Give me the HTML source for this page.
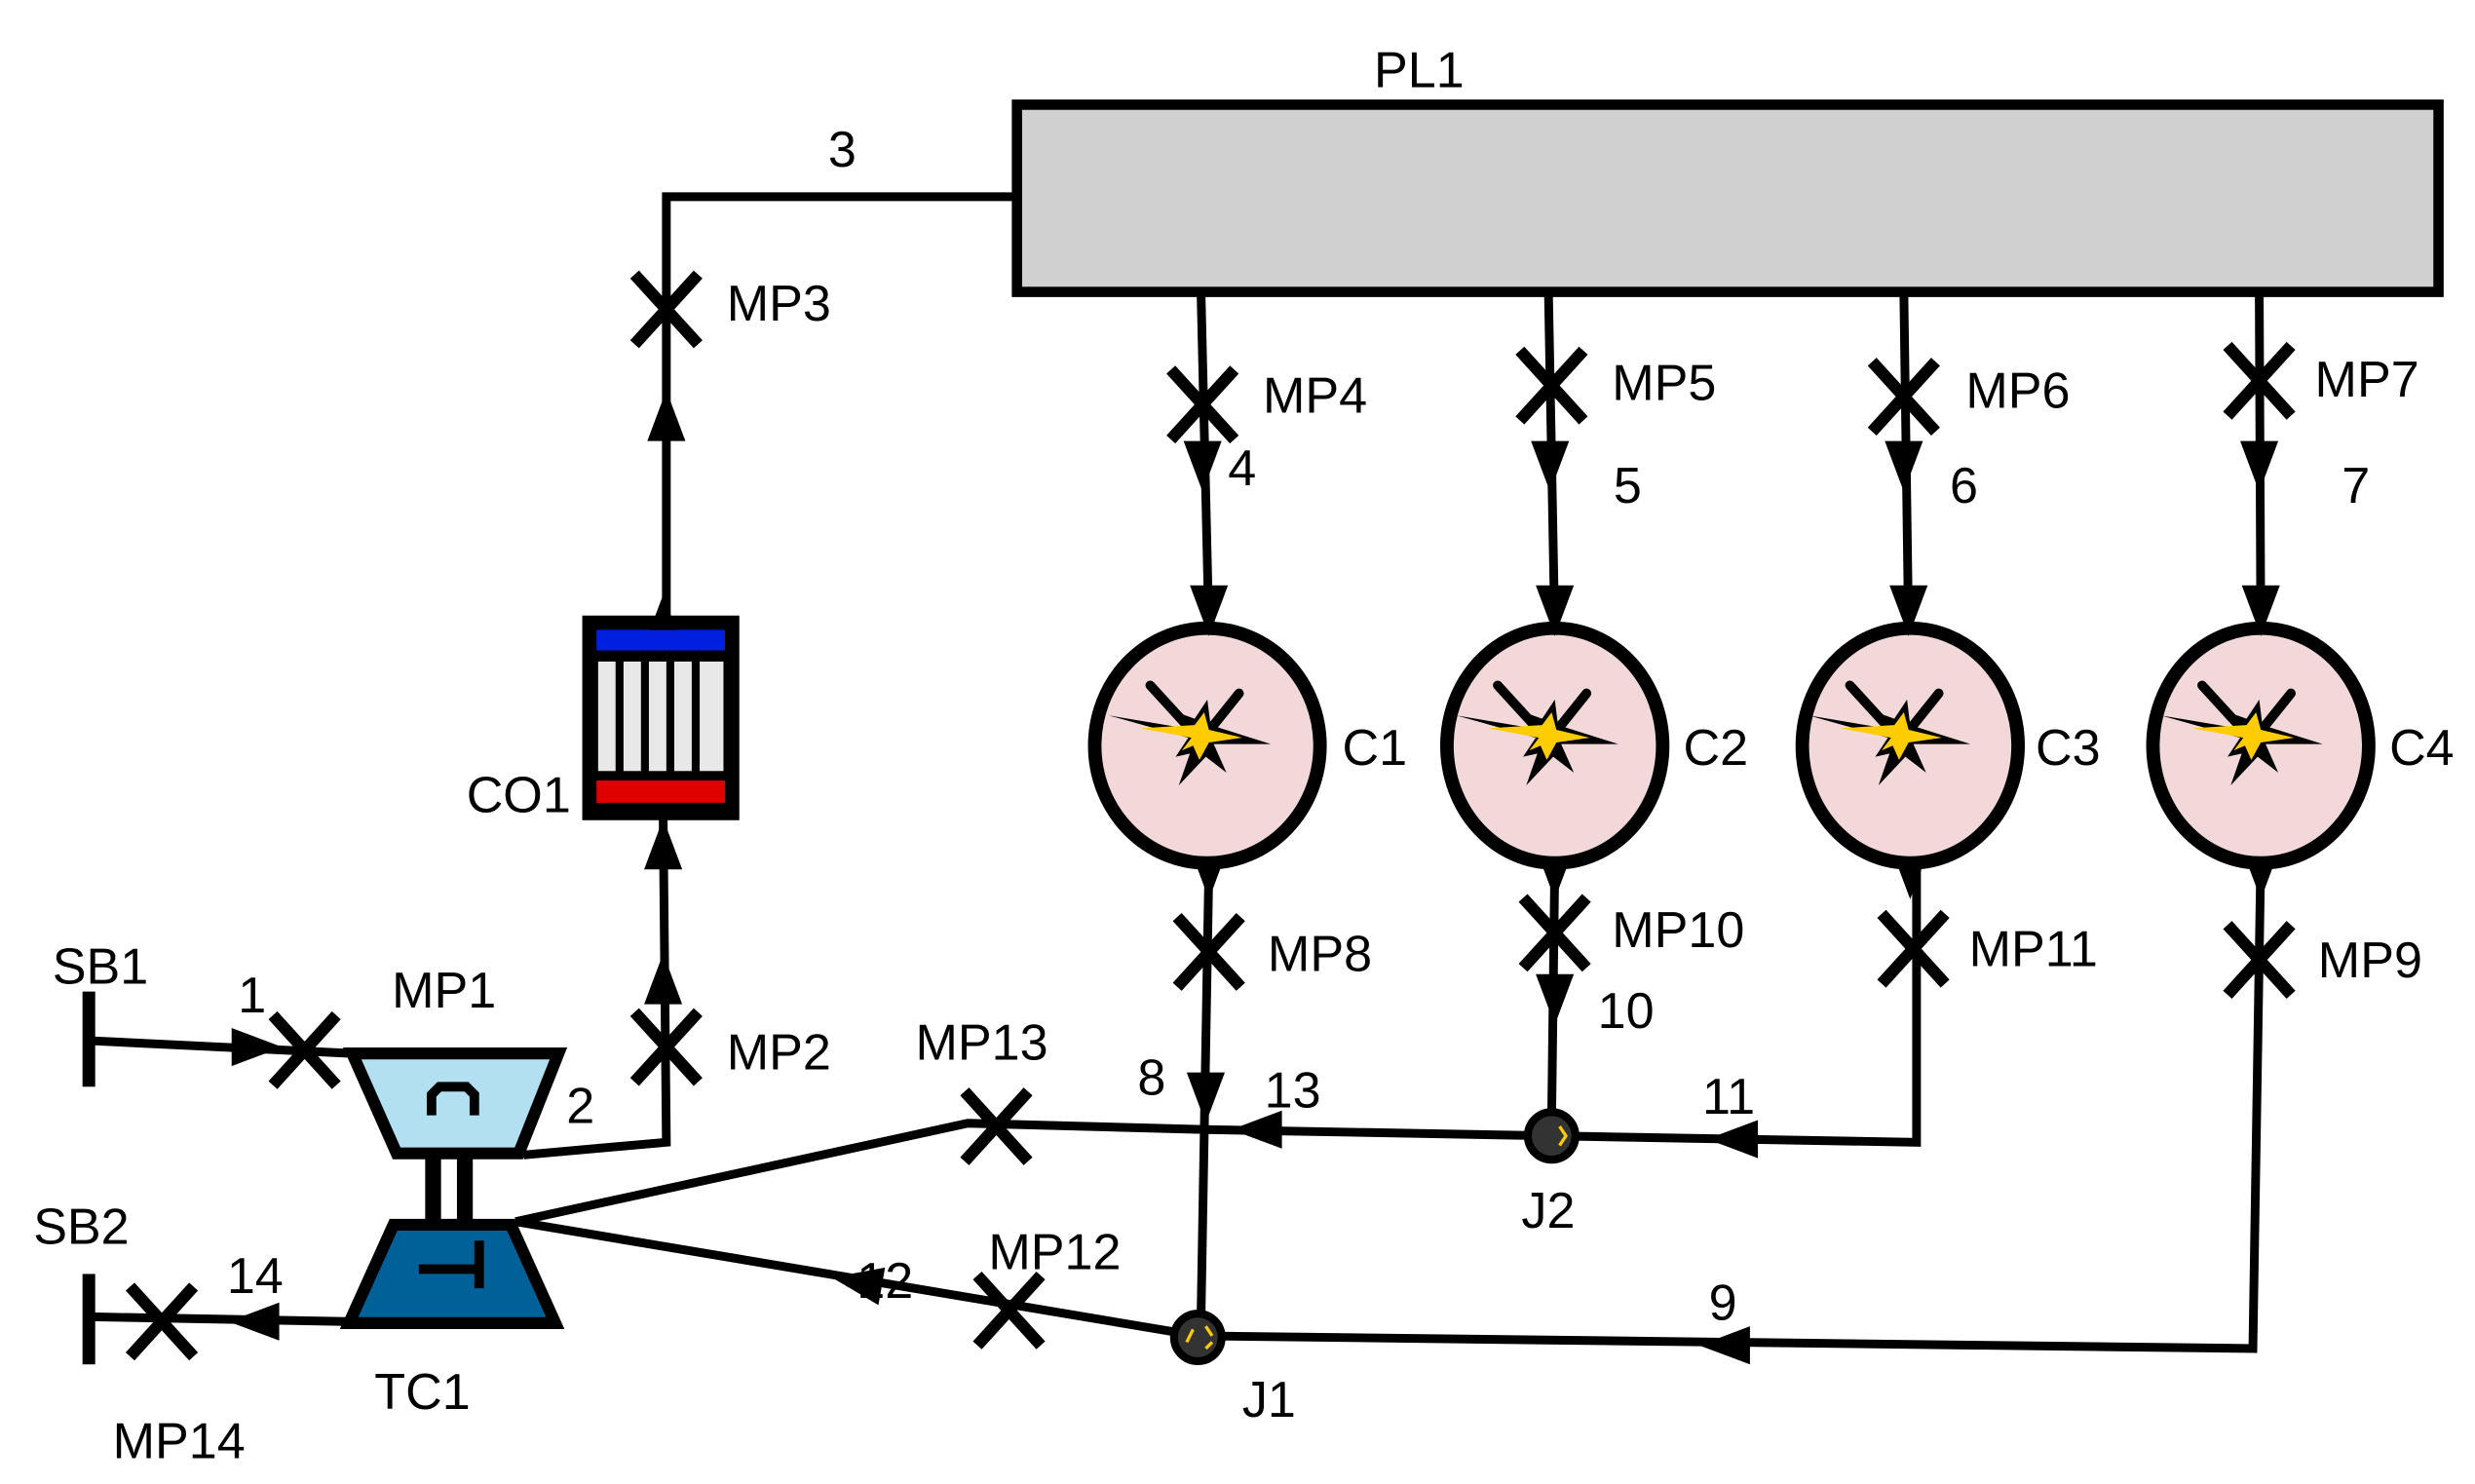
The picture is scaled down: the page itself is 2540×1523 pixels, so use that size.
<!DOCTYPE html>
<html><head><meta charset="utf-8"><style>
html,body{margin:0;padding:0;background:#fff;}
svg{display:block;}
text{font-family:"Liberation Sans",Arial,sans-serif;font-size:32px;fill:#000;}
</style></head><body>
<svg width="2540" height="1523" viewBox="0 0 1560 935.4" preserveAspectRatio="none" xmlns="http://www.w3.org/2000/svg">
<defs>
<g id="x"><path d="M-20,-22 L20,22 M20,-22 L-20,22" stroke="#000" stroke-width="7.5" fill="none"/></g>
<polygon id="a" points="-12,-16 12,-16 0,16" fill="#000"/>
<g id="star">
<path d="M-32,-33 L0,2 M24,-28 L0,2" stroke="#000" stroke-width="6" stroke-linecap="round"/>
<polygon points="-58,-14 -10,-6 -18,-17 -4,-12 4,-24 6,-8 44,4 8,4 16,22 3,12 -14,30 -7,10 -16,12 -8,0" fill="#000"/>
<polygon points="-38,-6 -4,-8 2,-16 5,-5 26,0 5,3 -1,14 -5,5 -12,8 -6,0" fill="#ffcc00"/>
</g>
</defs>
<g stroke="#000" stroke-width="5.5" fill="none">
<polyline points="641,124 420,124 420,388"/>
<polyline points="418,516 420,720 330,728"/>
<polyline points="57,656 222,664"/>
<polyline points="57,830 218,833"/>
<polyline points="325,770 610,708 760,712 980,716 1208,720 1208,545"/>
<polyline points="325,770 755,842 1420,850 1425,540"/>
<line x1="757" y1="184" x2="762" y2="398"/>
<line x1="976" y1="184" x2="980" y2="398"/>
<line x1="1200" y1="184" x2="1203" y2="398"/>
<line x1="1424" y1="184" x2="1425" y2="398"/>
<line x1="762" y1="545" x2="757" y2="830"/>
<line x1="980" y1="545" x2="978" y2="705"/>
</g>
<rect x="641" y="66" width="896" height="118" fill="#d0d0d0" stroke="#000" stroke-width="6.5"/>
<rect x="367" y="388" width="99" height="129" fill="#000"/>
<rect x="376" y="397" width="81" height="13" fill="#0020e0"/>
<rect x="376" y="492" width="81" height="14" fill="#e00000"/>
<g fill="#e8e8e8"><rect x="377" y="417" width="11" height="69"/><rect x="393" y="417" width="11" height="69"/><rect x="409" y="417" width="11" height="69"/><rect x="425" y="417" width="11" height="69"/><rect x="441" y="417" width="15" height="69"/></g>
<polygon points="222,664 352,664 327,727 250,727" fill="#b3e0f0" stroke="#000" stroke-width="7.5"/>
<path d="M272,703 V690 L277,685 H294 L299,690 V703" stroke="#000" stroke-width="6" fill="none"/>
<rect x="268" y="727" width="10" height="45" fill="#000"/><rect x="288" y="727" width="10" height="45" fill="#000"/>
<polygon points="248,772 322,772 350,834 220,834" fill="#006098" stroke="#000" stroke-width="7.5"/>
<path d="M264,800 H302 M302,782 V812" stroke="#000" stroke-width="6"/>
<rect x="52" y="625" width="8" height="60" fill="#000"/>
<rect x="52" y="803" width="8" height="57" fill="#000"/>
<g fill="#f2d8d8" stroke="#000" stroke-width="8.5">
<ellipse cx="761" cy="470" rx="71" ry="74"/>
<ellipse cx="980" cy="470" rx="68" ry="74"/>
<ellipse cx="1204" cy="470" rx="68" ry="74"/>
<ellipse cx="1425" cy="470" rx="68" ry="74"/>
</g>
<use href="#star" x="757" y="465"/><use href="#star" x="976" y="465"/><use href="#star" x="1198" y="465"/><use href="#star" x="1420" y="465"/>
<circle cx="755" cy="843" r="15" fill="#333" stroke="#000" stroke-width="5"/>
<circle cx="978" cy="716" r="15" fill="#333" stroke="#000" stroke-width="5"/>
<path d="M752,838 L748,846 M760,836 L764,842 M760,850 L764,846" stroke="#ffcc00" stroke-width="2"/>
<path d="M983,710 L987,716 L983,722" stroke="#ffcc00" stroke-width="2" fill="none"/>
<use href="#x" x="420" y="195"/><use href="#x" x="420" y="660"/><use href="#x" x="192" y="662"/><use href="#x" x="102" y="833"/>
<use href="#x" x="628" y="710"/><use href="#x" x="636" y="826"/>
<use href="#x" x="758" y="255"/><use href="#x" x="978" y="243"/><use href="#x" x="1200" y="250"/><use href="#x" x="1424" y="240"/>
<use href="#x" x="762" y="600"/><use href="#x" x="980" y="588"/><use href="#x" x="1206" y="598"/><use href="#x" x="1424" y="605"/>
<use href="#a" transform="translate(420,262) rotate(180)"/>
<use href="#a" transform="translate(418,386) rotate(180) scale(0.7)"/>
<use href="#a" transform="translate(418,532) rotate(180)"/>
<use href="#a" transform="translate(418,617) rotate(180)"/>
<use href="#a" transform="translate(162,660) rotate(-90)"/>
<use href="#a" transform="translate(160,833) rotate(90)"/>
<use href="#a" transform="translate(540,808) rotate(100)"/>
<use href="#a" transform="translate(792,712) rotate(90)"/>
<use href="#a" transform="translate(1092,718) rotate(90)"/>
<use href="#a" transform="translate(1087,848) rotate(90)"/>
<use href="#a" transform="translate(758,294)"/><use href="#a" transform="translate(977,294)"/><use href="#a" transform="translate(1200,294)"/><use href="#a" transform="translate(1424,294)"/>
<use href="#a" transform="translate(762,385)"/><use href="#a" transform="translate(980,385)"/><use href="#a" transform="translate(1203,385)"/><use href="#a" transform="translate(1425,385)"/>
<use href="#a" transform="translate(762,554) scale(0.8)"/><use href="#a" transform="translate(980,554) scale(0.8)"/><use href="#a" transform="translate(1204,554) scale(0.8)"/><use href="#a" transform="translate(1425,554) scale(0.8)"/>
<use href="#a" transform="translate(980,630)"/>
<use href="#a" transform="translate(760,692)"/>
<text x="866" y="55">PL1</text>
<text x="522" y="105">3</text>
<text x="458" y="202">MP3</text>
<text x="294" y="512">CO1</text>
<text x="458" y="674">MP2</text>
<text x="357" y="708">2</text>
<text x="33" y="620">SB1</text>
<text x="150" y="638">1</text>
<text x="247" y="635">MP1</text>
<text x="21" y="784">SB2</text>
<text x="143" y="815">14</text>
<text x="71" y="919">MP14</text>
<text x="236" y="888">TC1</text>
<text x="577" y="668">MP13</text>
<text x="717" y="690">8</text>
<text x="797" y="698">13</text>
<text x="1073" y="702">11</text>
<text x="540" y="818">12</text>
<text x="623" y="800">MP12</text>
<text x="783" y="893">J1</text>
<text x="959" y="774">J2</text>
<text x="1077" y="832">9</text>
<text x="796" y="260">MP4</text>
<text x="774" y="306">4</text>
<text x="1016" y="252">MP5</text>
<text x="1017" y="317">5</text>
<text x="1239" y="257">MP6</text>
<text x="1229" y="317">6</text>
<text x="1459" y="250">MP7</text>
<text x="1476" y="317">7</text>
<text x="846" y="482">C1</text>
<text x="1061" y="482">C2</text>
<text x="1283" y="482">C3</text>
<text x="1506" y="482">C4</text>
<text x="799" y="612">MP8</text>
<text x="1016" y="597">MP10</text>
<text x="1007" y="648">10</text>
<text x="1241" y="609">MP11</text>
<text x="1461" y="616">MP9</text>
</svg>
</body></html>
